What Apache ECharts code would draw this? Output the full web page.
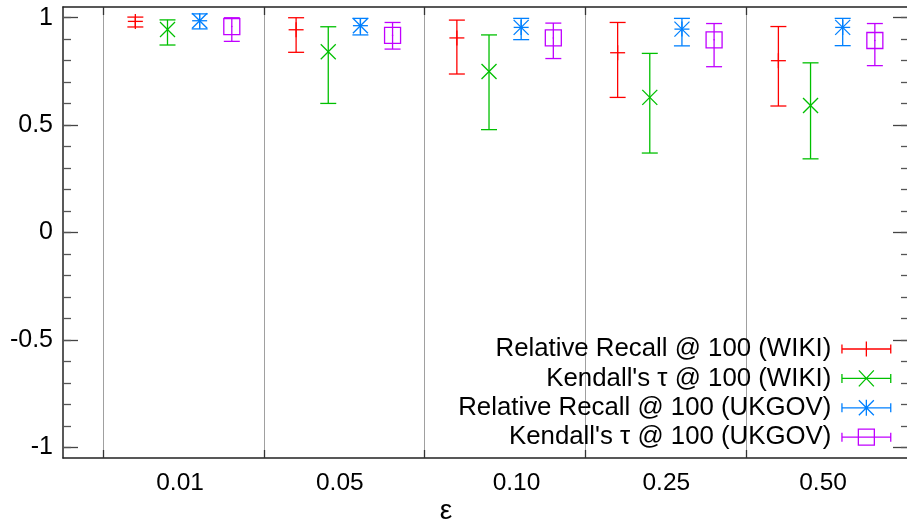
<!DOCTYPE html>
<html>
<head>
<meta charset="utf-8">
<script src="https://cdn.jsdelivr.net/npm/echarts@6/dist/echarts.min.js"></script>
<style>
  html, body { margin: 0; padding: 0; background: #fff; }
  #chart { width: 907px; height: 523px; }
</style>
</head>
<body>
<div id="chart"></div>
<script>
// epsilon values (x categories)
var categories = ["0.01", "0.05", "0.10", "0.25", "0.50"];
// [value, low, high] per category
var recallWiki = [[0.983, 0.957, 1.003], [0.944, 0.839, 1.0], [0.906, 0.738, 0.989], [0.837, 0.629, 0.978], [0.80, 0.589, 0.959]];
var tauWiki = [[0.945, 0.873, 0.99], [0.842, 0.601, 0.958], [0.750, 0.479, 0.92], [0.629, 0.37, 0.834], [0.591, 0.343, 0.79]];
var recallUkgov = [[0.986, 0.948, 1.018], [0.963, 0.92, 0.997], [0.955, 0.898, 0.997], [0.947, 0.869, 0.997], [0.955, 0.87, 0.997]];
var tauUkgov = [[0.959, 0.89, 1.0], [0.918, 0.854, 0.978], [0.906, 0.81, 0.975], [0.897, 0.772, 0.973], [0.894, 0.777, 0.973]];
var yTicks = [-1, -0.5, 0, 0.5, 1];
var yMinor = [-1, -0.9, -0.8, -0.7, -0.6, -0.5, -0.4, -0.3, -0.2, -0.1, 0, 0.1, 0.2, 0.3, 0.4, 0.5, 0.6, 0.7, 0.8, 0.9, 1];

// layout: where the epsilon labels sit along the x axis (group units)
var labelPos = [0.478, 1.472, 2.571, 3.503, 4.478];
var bounds = [0, 1, 2, 3, 4];
var FONT = "Liberation Sans, Arial, sans-serif";

var names = [
  "Relative Recall @ 100 (WIKI)",
  "Kendall's τ @ 100 (WIKI)",
  "Relative Recall @ 100 (UKGOV)",
  "Kendall's τ @ 100 (UKGOV)"
];
var colors = ["#ff0000", "#00c000", "#0080ff", "#c000ff"];
var kinds = ["plus", "cross", "star", "box"];
var seriesData = [recallWiki, tauWiki, recallUkgov, tauUkgov];

function line(x1, y1, x2, y2, style) {
  return { type: "line", shape: { x1: x1, y1: y1, x2: x2, y2: y2 }, style: style };
}

function makeRender(kind, color) {
  return function (params, api) {
    var x = api.value(0);
    var c = api.coord([x, api.value(1)]);
    var lo = api.coord([x, api.value(2)]);
    var hi = api.coord([x, api.value(3)]);
    var st = { stroke: color, lineWidth: 1.3, fill: "none" };
    var cw = 8, m = 7.5;
    var kids = [
      line(c[0], lo[1], c[0], hi[1], st),
      line(c[0] - cw, lo[1], c[0] + cw, lo[1], st),
      line(c[0] - cw, hi[1], c[0] + cw, hi[1], st)
    ];
    if (kind === "plus" || kind === "star") {
      kids.push(line(c[0] - m, c[1], c[0] + m, c[1], st));
      kids.push(line(c[0], c[1] - m, c[0], c[1] + m, st));
    }
    if (kind === "cross" || kind === "star") {
      kids.push(line(c[0] - m, c[1] - m, c[0] + m, c[1] + m, st));
      kids.push(line(c[0] - m, c[1] + m, c[0] + m, c[1] - m, st));
    }
    if (kind === "box") {
      kids.push({ type: "rect", shape: { x: c[0] - 8, y: c[1] - 8, width: 16, height: 16 }, style: st });
      kids.push({ type: "circle", shape: { cx: c[0], cy: c[1], r: 0.8 }, style: { fill: color } });
    }
    return { type: "group", children: kids };
  };
}

var iconBase = "M0 8L50 8M0.6 3.5L0.6 12.5M49.4 3.5L49.4 12.5";
var icons = {
  plus: iconBase + "M25 0.5L25 15.5M17.5 8L32.5 8M25 0L25 0.1M25 16L25 15.9",
  cross: iconBase + "M17.5 0L32.5 16M17.5 16L32.5 0",
  star: iconBase + "M25 0L25 16M17.5 0.5L32.5 15.5M17.5 15.5L32.5 0.5",
  box: iconBase + "M17 0L33 0L33 16L17 16Z"
};

var series = [];
for (var k = 0; k < 4; k++) {
  series.push({
    name: names[k],
    type: "custom",
    renderItem: makeRender(kinds[k], colors[k]),
    itemStyle: { color: colors[k] },
    encode: { x: 0, y: 1 },
    data: seriesData[k].map(function (d, i) { return [i + 0.2 * (this.k + 1), d[0], d[1], d[2]]; }, { k: k }),
    z: 3
  });
}
// gray separators between epsilon groups
series.push({
  type: "scatter",
  data: [],
  silent: true,
  markLine: {
    silent: true,
    symbol: "none",
    label: { show: false },
    z: 0,
    lineStyle: { color: "#a0a0a0", width: 1, type: "solid" },
    data: bounds.map(function (b) { return { xAxis: b }; })
  }
});

var yBase = { type: "value", min: -1.05, max: 1.05, splitLine: { show: false } };

var chart = echarts.init(document.getElementById("chart"));
chart.setOption({
  animation: false,
  backgroundColor: "#fff",
  grid: { left: 63, right: 0, top: 7, bottom: 65, outerBoundsMode: "none", containLabel: false },
  legend: {
    orient: "vertical",
    right: 15,
    top: 336,
    padding: 0,
    align: "right",
    itemWidth: 50,
    itemHeight: 16,
    itemGap: 3.4,
    selectedMode: false,
    textStyle: { fontSize: 25.8, fontFamily: FONT, color: "#000", padding: [0, 5, 0, 0] },
    data: names.map(function (n, i) {
      return {
        name: n,
        icon: "path://" + icons[kinds[i]],
        itemStyle: { color: "transparent", borderColor: colors[i], borderWidth: 1.3 }
      };
    })
  },
  xAxis: [
    {
      type: "value", min: -0.25, max: 5, position: "bottom",
      axisLine: { show: true, onZero: false, lineStyle: { color: "#222", width: 1.5 } },
      axisTick: { show: true, inside: true, length: 8, customValues: bounds, lineStyle: { color: "#333", width: 1.3 } },
      axisLabel: {
        customValues: labelPos, margin: 13, fontSize: 24.5, fontFamily: FONT, color: "#000",
        formatter: function (v) {
          var idx = 0;
          labelPos.forEach(function (p, i) { if (Math.abs(p - v) < Math.abs(labelPos[idx] - v)) idx = i; });
          return categories[idx];
        }
      },
      splitLine: { show: false },
      name: "ε", nameLocation: "middle", nameGap: 39, nameMoveOverlap: false,
      nameTextStyle: { fontSize: 28, fontFamily: FONT, color: "#000", padding: [0, 78, 0, 0] }
    },
    {
      type: "value", min: -0.25, max: 5, position: "top",
      axisLine: { show: true, onZero: false, lineStyle: { color: "#222", width: 1.5 } },
      axisTick: { show: true, inside: true, length: 8, customValues: bounds, lineStyle: { color: "#333", width: 1.3 } },
      axisLabel: { show: false },
      splitLine: { show: false }
    }
  ],
  yAxis: [
    Object.assign({}, yBase, {
      position: "left",
      axisLine: { show: true, onZero: false, lineStyle: { color: "#222", width: 1.5 } },
      axisTick: { show: true, inside: true, length: 15, customValues: yTicks, lineStyle: { color: "#444", width: 1.3 } },
      axisLabel: {
        customValues: yTicks, margin: 10, fontSize: 25, fontFamily: FONT, color: "#000",
        formatter: function (v) { return String(Math.round(v * 10) / 10); }
      }
    }),
    Object.assign({}, yBase, {
      position: "left",
      axisLine: { show: false, onZero: false },
      axisTick: { show: true, inside: true, length: 8, customValues: yMinor, lineStyle: { color: "#555", width: 1.3 } },
      axisLabel: { show: false }
    }),
    Object.assign({}, yBase, {
      position: "right",
      axisLine: { show: false, onZero: false },
      axisTick: { show: true, inside: true, length: 14, customValues: yTicks, lineStyle: { color: "#444", width: 1.3 } },
      axisLabel: { show: false }
    }),
    Object.assign({}, yBase, {
      position: "right",
      axisLine: { show: false, onZero: false },
      axisTick: { show: true, inside: true, length: 6, customValues: yMinor, lineStyle: { color: "#555", width: 1.3 } },
      axisLabel: { show: false }
    })
  ],
  series: series
});
</script>
</body>
</html>
